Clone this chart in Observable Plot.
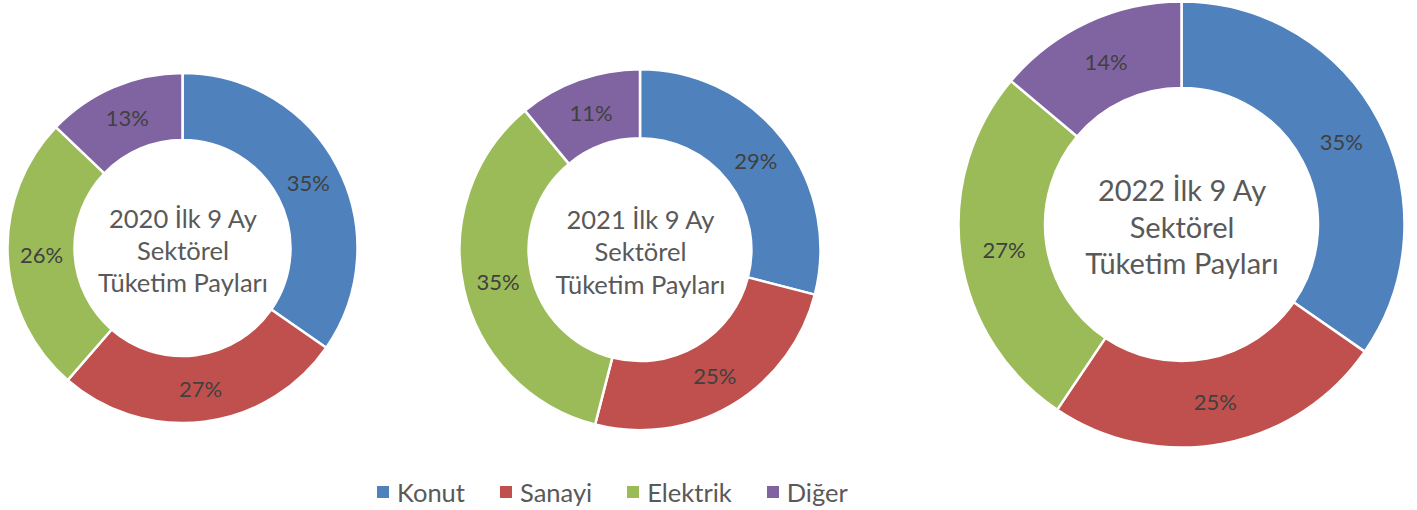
<!DOCTYPE html>
<html>
<head>
<meta charset="utf-8">
<script src="https://cdn.jsdelivr.net/npm/d3@7"></script>
<script src="https://cdn.jsdelivr.net/npm/@observablehq/plot@0.6"></script>
<style>
  body { margin: 0; background: #fff; font-family: Lato, sans-serif; }
  #wrap { position: relative; width: 1417px; height: 510px; }
  #legend { position: absolute; left: 377px; top: 477px; height: 30px; display: flex; align-items: center;
            font-size: 25.5px; color: #595959; font-family: Lato, sans-serif; white-space: nowrap; }
  #legend .item { display: flex; align-items: center; margin-right: 35px; }
  #legend .sw { width: 12px; height: 12px; margin-right: 8px; }
</style>
</head>
<body>
<div id="wrap"><div id="chart"></div><div id="legend"></div></div>
<script>
// ---- data ----
const years = ["2020", "2021", "2022"];
const categories = ["Konut", "Sanayi", "Elektrik", "Diğer"];
const colors = ["#4F81BD", "#C0504D", "#9BBB59", "#8064A2"];
const values2020 = [35, 27, 26, 13];
const values2021 = [29, 25, 35, 11];
const values2022 = [35, 25, 27, 14];
const titleLines = ["İlk 9 Ay", "Sektörel", "Tüketim Payları"];

// ---- layout (pixels) ----
const W = 1417, H = 477;
const layout = {
  "2020": {cx: 182.5, cy: 248, outer: 175, inner: 108, titleSize: 25.5},
  "2021": {cx: 640, cy: 249.7, outer: 180.5, inner: 111.4, titleSize: 25.5},
  "2022": {cx: 1181.5, cy: 224.5, outer: 223, inner: 136.5, titleSize: 29}
};
const seriesByYear = {"2020": values2020, "2021": values2021, "2022": values2022};

// ---- build tables ----
const slices = [];
for (const y of years) {
  const L = layout[y];
  const arcs = d3.pie().sort(null).value(d => d)(seriesByYear[y]);
  arcs.forEach((a, i) => {
    slices.push({year: y, category: categories[i], value: seriesByYear[y][i],
      a0: a.startAngle, a1: a.endAngle, cx: L.cx, cy: L.cy, r0: L.inner, r1: L.outer});
  });
}
const centers = years.map(y => ({year: y, cx: layout[y].cx, cy: layout[y].cy,
  size: layout[y].titleSize, title: `${y} ${titleLines[0]}\n${titleLines[1]}\n${titleLines[2]}`}));

// ---- custom arc mark drawn through Plot's scales ----
class ArcMark extends Plot.Mark {
  constructor(data, options = {}) {
    const {x, y, fill, a0, a1, r0, r1} = options;
    super(data, {
      x: {value: x, scale: "x"},
      y: {value: y, scale: "y"},
      fill: {value: fill, scale: "color"},
      a0: {value: a0},
      a1: {value: a1},
      r0: {value: r0},
      r1: {value: r1}
    }, options, {ariaLabel: "arc"});
  }
  render(index, scales, values) {
    const {x: X, y: Y, fill: F, a0: A0, a1: A1, r0: R0, r1: R1} = values;
    const k = scales.x(1) - scales.x(0);
    const g = d3.create("svg:g");
    const arc = d3.arc();
    for (const i of index) {
      g.append("path")
        .attr("transform", `translate(${X[i]},${Y[i]})`)
        .attr("d", arc({innerRadius: R0[i] * k, outerRadius: R1[i] * k, startAngle: A0[i], endAngle: A1[i]}))
        .attr("fill", F[i])
        .attr("stroke", "#fff")
        .attr("stroke-width", 2.5)
        .attr("stroke-linejoin", "round");
    }
    return g.node();
  }
}

const mid = d => (d.a0 + d.a1) / 2;
const rm = d => (d.r0 + d.r1) / 2;

const chart = Plot.plot({
  width: W, height: H,
  margin: 0,
  style: {fontFamily: "Lato, sans-serif", background: "#fff"},
  x: {domain: [0, W], range: [0, W], axis: null},
  y: {domain: [0, H], range: [0, H], axis: null},
  color: {domain: categories, range: colors},
  marks: [
    new ArcMark(slices, {x: "cx", y: "cy", fill: "category", a0: "a0", a1: "a1", r0: "r0", r1: "r1"}),
    Plot.text(slices, {
      x: d => d.cx + rm(d) * Math.sin(mid(d)),
      y: d => d.cy - rm(d) * Math.cos(mid(d)) + 1,
      text: d => `${d.value}%`,
      fill: "#404040", fontSize: 22
    }),
    Plot.text(centers, {
      x: "cx", y: d => d.cy + 1, text: "title",
      fontSize: d => d.size, lineHeight: 1.26, fill: "#595959"
    })
  ]
});
document.getElementById("chart").appendChild(chart);

// ---- legend ----
const legend = d3.select("#legend");
categories.forEach((c, i) => {
  const it = legend.append("div").attr("class", "item");
  it.append("div").attr("class", "sw").style("background", colors[i]);
  it.append("span").text(c);
});
</script>
</body>
</html>
